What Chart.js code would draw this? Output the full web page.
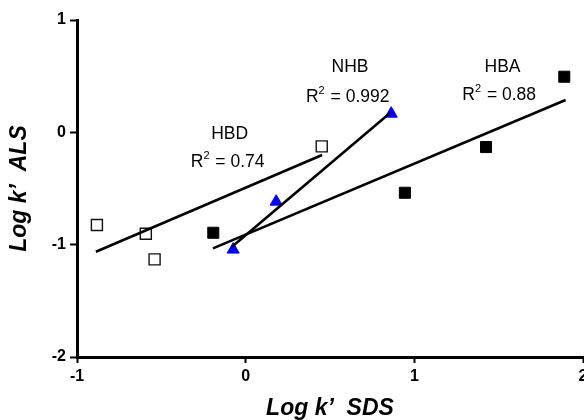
<!DOCTYPE html>
<html>
<head>
<meta charset="utf-8">
<script src="https://cdn.jsdelivr.net/npm/chart.js@4.4.1/dist/chart.umd.min.js"></script>
<style>
  html, body { margin: 0; padding: 0; background: #fff; overflow: hidden; }
  #wrap { width: 584px; height: 420px; overflow: hidden; }
</style>
</head>
<body>
<div id="wrap"><canvas id="chart" width="600" height="420"></canvas></div>
<script>
// measured points (log k' SDS, log k' ALS)
const hbdX = [-0.882, -0.592, -0.540, 0.451];
const hbdY = [-0.825, -0.903, -1.131, -0.125];
const nhbX = [-0.074, 0.181, 0.863];
const nhbY = [-1.044, -0.617, 0.166];
const hbaX = [-0.192, 0.944, 1.425, 1.889];
const hbaY = [-0.894, -0.538, -0.131, 0.495];

// regression line end points
const hbdFitX = [-0.888, 0.453];
const hbdFitY = [-1.063, -0.202];
const nhbFitX = [-0.081, 0.856];
const nhbFitY = [-1.018, 0.172];
const hbaFitX = [-0.194, 1.897];
const hbaFitY = [-1.033, 0.288];

const xTicks = [-1, 0, 1, 2];
const yTicks = [-2, -1, 0, 1];

// label text and anchor in data units
const labelTexts = ["HBD", "R\u00b2 = 0.74", "NHB", "R\u00b2 = 0.992", "HBA", "R\u00b2 = 0.88"];
const labelX = [-0.095, -0.107, 0.619, 0.605, 1.523, 1.503];
const labelY = [-0.018, -0.267, 0.581, 0.314, 0.581, 0.329];

function toPoints(xs, ys) {
  return xs.map((x, i) => ({ x: x, y: ys[i] }));
}

const mainFont = "17.5px Arial, 'Liberation Sans', sans-serif";
const supFont = "11px Arial, 'Liberation Sans', sans-serif";

// draws "R² = ..." with a real raised small 2
function drawLabel(ctx, text, cx, cy) {
  const parts = text.split("\u00b2");
  if (parts.length === 1) {
    ctx.font = mainFont;
    ctx.textAlign = "center";
    ctx.fillText(text, cx, cy);
    return;
  }
  ctx.font = mainFont;
  const w0 = ctx.measureText(parts[0]).width;
  const w2 = ctx.measureText(parts[1]).width;
  ctx.font = supFont;
  const ws = ctx.measureText("2").width + 1;
  let x = cx - (w0 + ws + w2) / 2;
  ctx.textAlign = "left";
  ctx.font = mainFont;
  ctx.fillText(parts[0], x, cy);
  x += w0;
  ctx.font = supFont;
  ctx.fillText("2", x, cy - 6);
  x += ws;
  ctx.font = mainFont;
  ctx.fillText(parts[1], x, cy);
}

const labelPlugin = {
  id: "fitLabels",
  afterDatasetsDraw(chart) {
    const ctx = chart.ctx;
    const xScale = chart.scales.x;
    const yScale = chart.scales.y;
    ctx.save();
    ctx.fillStyle = "#000";
    ctx.textBaseline = "middle";
    labelTexts.forEach((text, i) => {
      drawLabel(ctx, text, xScale.getPixelForValue(labelX[i]), yScale.getPixelForValue(labelY[i]));
    });
    ctx.restore();
  }
};

const tickFont = { family: "Arial, 'Liberation Sans', sans-serif", size: 16, weight: "bold" };
const titleFont = { family: "Arial, 'Liberation Sans', sans-serif", size: 23, weight: "bold", style: "italic", lineHeight: 1 };

function fitLine(xs, ys) {
  return {
    data: toPoints(xs, ys),
    showLine: true,
    borderColor: "#000",
    borderWidth: 2.6,
    pointRadius: 0,
    fill: false
  };
}

new Chart(document.getElementById("chart"), {
  type: "scatter",
  data: {
    datasets: [
      fitLine(hbdFitX, hbdFitY),
      fitLine(nhbFitX, nhbFitY),
      fitLine(hbaFitX, hbaFitY),
      {
        data: toPoints(hbdX, hbdY),
        pointStyle: "rect",
        pointRadius: 7.8,
        backgroundColor: "#fff",
        borderColor: "#111",
        borderWidth: 1.4
      },
      {
        data: toPoints(hbaX, hbaY),
        pointStyle: "rect",
        pointRadius: 7.8,
        backgroundColor: "#000",
        borderColor: "#000",
        borderWidth: 1
      },
      {
        data: toPoints(nhbX, nhbY),
        pointStyle: "triangle",
        pointRadius: 7,
        backgroundColor: "#0000ff",
        borderColor: "#0000ff",
        borderWidth: 1
      }
    ]
  },
  options: {
    responsive: false,
    animation: false,
    layout: { padding: { top: 20, right: 17, bottom: 0, left: 0 } },
    plugins: {
      legend: { display: false },
      tooltip: { enabled: false }
    },
    scales: {
      x: {
        type: "linear",
        min: -1,
        max: 2,
        afterFit(scale) { scale.height = 63; },
        afterBuildTicks(scale) { scale.ticks = xTicks.map((v) => ({ value: v })); },
        ticks: { font: tickFont, color: "#000", padding: 4 },
        border: { color: "#000", width: 3 },
        grid: { drawOnChartArea: false, drawTicks: true, tickLength: 6, tickColor: "#000", tickWidth: 2 },
        title: { display: true, text: "Log k\u2019  SDS", font: titleFont, color: "#000", padding: { top: 0, bottom: 0 } }
      },
      y: {
        type: "linear",
        min: -2,
        max: 1,
        afterFit(scale) { scale.width = 77; },
        afterBuildTicks(scale) { scale.ticks = yTicks.map((v) => ({ value: v })); },
        ticks: { font: tickFont, color: "#000", padding: 4 },
        border: { color: "#000", width: 3 },
        grid: { drawOnChartArea: false, drawTicks: true, tickLength: 7, tickColor: "#000", tickWidth: 2 },
        title: { display: true, text: "Log k\u2019  ALS", font: titleFont, color: "#000", padding: { top: 8, bottom: 0 } }
      }
    }
  },
  plugins: [labelPlugin]
});
</script>
</body>
</html>
